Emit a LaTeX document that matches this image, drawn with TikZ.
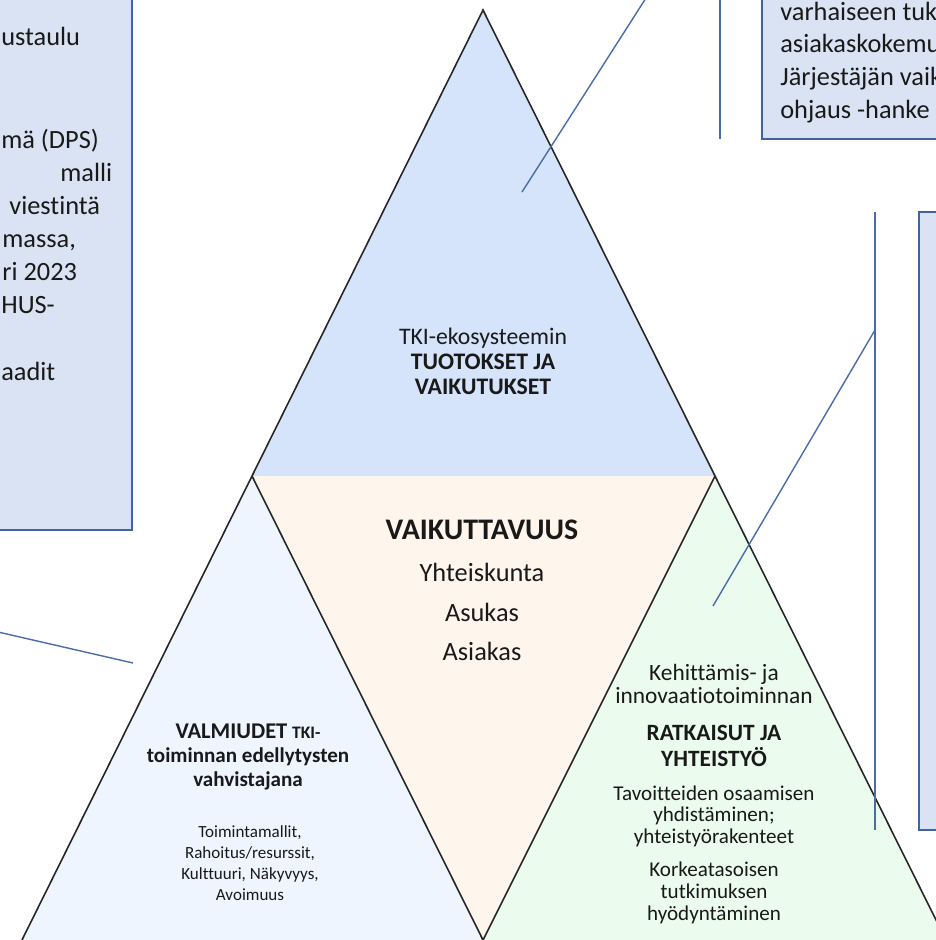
\documentclass[tikz,border=0pt]{standalone}
\usepackage{fontspec}
\setmainfont{Carlito}[Ligatures=NoCommon]
\definecolor{topblue}{HTML}{D5E3FB}
\definecolor{midbeige}{HTML}{FEF6EC}
\definecolor{lowblue}{HTML}{EEF5FF}
\definecolor{lowgreen}{HTML}{EBFCEE}
\definecolor{boxfill}{HTML}{DAE3F3}
\definecolor{boxedge}{HTML}{41639F}
\definecolor{linkblue}{HTML}{4A6CA8}
\newcommand{\txtsize}[2]{\fontsize{#1}{#2}\selectfont}
\begin{document}
\begin{tikzpicture}[x=0.02cm,y=-0.02cm,
  link/.style={draw=linkblue,line width=0.8pt},
  edge/.style={draw=black!85,line width=0.9pt},
  note/.style={draw=boxedge,fill=boxfill,line width=0.8pt},
  lbl/.style={inner sep=0pt,align=center,text=black!90},
  notetxt/.style={inner sep=0pt,text=black!90,font=\txtsize{15}{19}}]
\path[use as bounding box] (0,0) rectangle (936,940);
\clip (0,0) rectangle (936,940);

% boxes at the sides
\draw[note] (-10,-10) rectangle (132,530);
\draw[note] (762,-10) rectangle (950,139);
\draw[note] (919,212) rectangle (950,830);

% left box text
\node[notetxt,anchor=base west] (lb1) at (1,45) {ustaulu};
\node[notetxt,anchor=base west] (lb2) at (1,148) {mä (DPS)};
\node[notetxt,anchor=base west] (lb3) at (60,181) {malli};
\node[notetxt,anchor=base west] (lb4) at (9,214) {viestintä};
\node[notetxt,anchor=base west] (lb5) at (2,247) {massa,};
\node[notetxt,anchor=base west] (lb6) at (2,280) {ri 2023};
\node[notetxt,anchor=base west] (lb7) at (1,313) {HUS-};
\node[notetxt,anchor=base west] (lb8) at (1,380) {aadit};

% top right box text
\node[notetxt,anchor=base west] (rb1) at (780,20) {varhaiseen tuk};
\node[notetxt,anchor=base west] (rb2) at (780,52) {asiakaskokemu};
\node[notetxt,anchor=base west] (rb3) at (780,85) {Järjestäjän vaik};
\node[notetxt,anchor=base west] (rb4) at (780,118) {ohjaus -hanke};

% triangles
\coordinate (apex) at (483,10);
\coordinate (lmid) at (252,476);
\coordinate (rmid) at (715,476);
\coordinate (bl) at (22,940);
\coordinate (bm) at (483,940);
\coordinate (br) at (946,940);
\fill[topblue] (apex)--(lmid)--(rmid)--cycle;
\fill[midbeige] (lmid)--(rmid)--(bm)--cycle;
\fill[lowblue] (lmid)--(bl)--(bm)--cycle;
\fill[lowgreen] (rmid)--(bm)--(br)--cycle;
\draw[edge] (bl)--(apex)--(br);
\draw[edge] (lmid)--(bm)--(rmid);

% top
\node[lbl,font=\txtsize{13.5}{14.2}] (tuotokset) at (483,361)
  {TKI-ekosysteemin\\ \textbf{TUOTOKSET JA}\\ \textbf{VAIKUTUKSET}};
% middle
\node[lbl,font=\txtsize{17}{20}\bfseries] (vaik) at (482,530) {VAIKUTTAVUUS};
\node[lbl,font=\txtsize{15}{22.7}] (kohteet) at (482,612) {Yhteiskunta\\ Asukas\\ Asiakas};
% lower left
\node[lbl,font=\txtsize{12}{13.6}\bfseries] (valmiudet) at (248,757)
  {{\txtsize{12.8}{13.6}VALMIUDET} {\txtsize{10}{11}TKI-}\\ toiminnan edellytysten\\ vahvistajana};
\node[lbl,font=\txtsize{9.7}{11.9}] (tekijat) at (250,863)
  {Toimintamallit,\\ Rahoitus/resurssit,\\ Kulttuuri, Näkyvyys,\\ Avoimuus};
% lower right
\node[lbl,font=\txtsize{13.3}{13.6}] (kehitys) at (714,684) {Kehittämis- ja\\ innovaatiotoiminnan};
\node[lbl,font=\txtsize{13.3}{14.7}\bfseries] (ratkaisut) at (714,746) {RATKAISUT JA\\ YHTEISTYÖ};
\node[lbl,font=\txtsize{12}{12.2}] (tavoitteet) at (714,816)
  {Tavoitteiden osaamisen\\ yhdistäminen;\\ yhteistyörakenteet};
\node[lbl,font=\txtsize{12}{12.4}] (tutkimus) at (714,893)
  {Korkeatasoisen\\ tutkimuksen\\ hyödyntäminen};

% connectors
\coordinate (topIn) at (522,192);
\coordinate (topOut) at (646,-2);
\coordinate (vTop) at (720,-2);
\coordinate (vBot) at (720,139);
\coordinate (barTop) at (875,212);
\coordinate (barBot) at (875,830);
\coordinate (greenIn) at (713,606);
\coordinate (barMid) at (875,330);
\coordinate (leftOut) at (-2,632);
\coordinate (leftIn) at (133,663);
\draw[link] (topIn) -- (topOut);
\draw[link] (vTop) -- (vBot);
\draw[link,line width=1.1pt] (barTop) -- (barBot);
\draw[link] (greenIn) -- (barMid);
\draw[link] (leftOut) -- (leftIn);
\end{tikzpicture}
\end{document}
